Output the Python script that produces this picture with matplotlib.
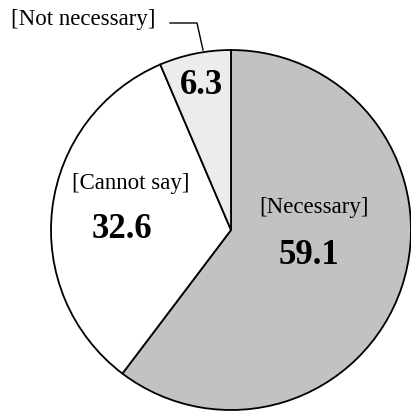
import matplotlib
matplotlib.use("Agg")
import matplotlib.pyplot as plt

labels = ["[Necessary]", "[Cannot say]", "[Not necessary]"]
values = [59.1, 32.6, 6.3]
colors = ["#c2c2c2", "#ffffff", "#ececec"]

plt.rcParams['font.family'] = ['Liberation Serif', 'DejaVu Serif']

fig = plt.figure(figsize=(4.11, 4.18), dpi=100)
ax = fig.add_axes([0, 0, 1, 1])

cx, cy, r = 231, 188, 180
wedges, _ = ax.pie(values, colors=colors, startangle=90, counterclock=False,
                   center=(cx, cy), radius=r,
                   wedgeprops=dict(edgecolor='black', linewidth=1.3))
ax.set_xlim(0, 411)
ax.set_ylim(0, 418)
ax.set_aspect('equal')
ax.axis('off')

# labels inside slices
ax.text(314, 418 - 207, labels[0], ha='center', va='center', fontsize=16.5)
ax.text(309, 418 - 255, f"{values[0]:.1f}", ha='center', va='center',
        fontsize=25, fontweight='bold')
ax.text(131, 418 - 184, labels[1], ha='center', va='center', fontsize=16.5)
ax.text(122, 418 - 229, f"{values[1]:.1f}", ha='center', va='center',
        fontsize=25, fontweight='bold')
ax.text(201, 418 - 86, f"{values[2]:.1f}", ha='center', va='center',
        fontsize=25, fontweight='bold')

# outside label with leader line
ax.text(83, 418 - 19, labels[2], ha='center', va='center', fontsize=16.5)
ax.plot([170, 197, 203], [418 - 23, 418 - 23, 418 - 50], color='black', lw=1)

fig.savefig('out.png', dpi=100)
